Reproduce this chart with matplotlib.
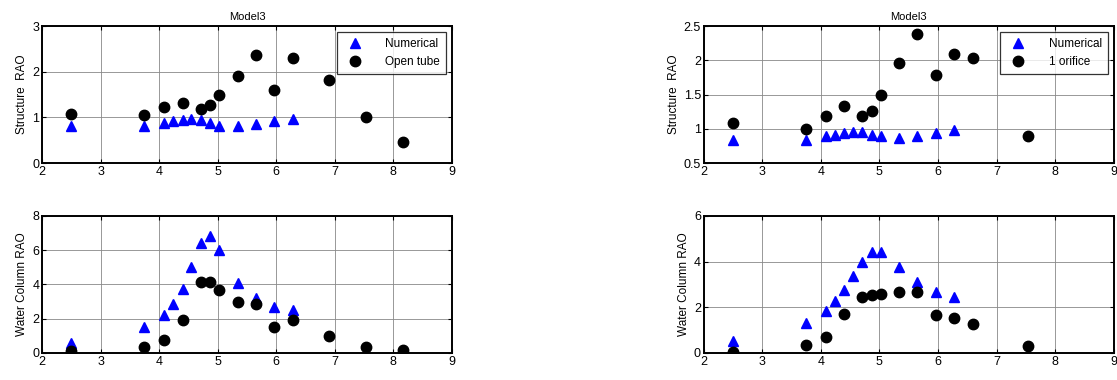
import matplotlib
matplotlib.use('Agg')
import matplotlib.pyplot as plt
from matplotlib.ticker import FuncFormatter

plt.rcParams['font.family'] = ['Liberation Sans', 'DejaVu Sans']

# wave frequency (x) values
x_num = [2.5, 3.75, 4.08, 4.24, 4.4, 4.55, 4.71, 4.87, 5.03, 5.34, 5.65, 5.97, 6.28]
x_exp_open = [2.5, 3.75, 4.08, 4.4, 4.71, 4.87, 5.03, 5.34, 5.65, 5.97, 6.28, 6.9, 7.54, 8.17]
x_exp_orif = [2.5, 3.75, 4.08, 4.4, 4.71, 4.87, 5.03, 5.34, 5.65, 5.97, 6.28, 6.6, 7.54]

# left column: open tube
struct_num_L = [0.82, 0.82, 0.88, 0.92, 0.95, 0.97, 0.95, 0.88, 0.81, 0.80, 0.85, 0.91, 0.97]
struct_open = [1.08, 1.06, 1.22, 1.31, 1.18, 1.27, 1.49, 1.91, 2.36, 1.60, 2.29, 1.82, 1.00, 0.46]
water_num_L = [0.58, 1.5, 2.2, 2.85, 3.75, 5.05, 6.45, 6.85, 6.0, 4.1, 3.2, 2.7, 2.5]
water_open = [0.1, 0.35, 0.74, 1.94, 4.17, 4.12, 3.65, 2.95, 2.87, 1.52, 1.94, 1.0, 0.35, 0.16]

# right column: 1 orifice
struct_num_R = [0.84, 0.84, 0.89, 0.91, 0.94, 0.95, 0.95, 0.91, 0.89, 0.86, 0.89, 0.94, 0.98]
struct_orif = [1.09, 1.0, 1.18, 1.33, 1.18, 1.26, 1.5, 1.96, 2.38, 1.78, 2.09, 2.03, 0.9]
water_num_R = [0.51, 1.31, 1.82, 2.26, 2.74, 3.35, 4.0, 4.41, 4.44, 3.76, 3.09, 2.69, 2.45]
water_orif = [0.03, 0.35, 0.7, 1.72, 2.47, 2.56, 2.59, 2.65, 2.69, 1.66, 1.53, 1.27, 0.29]

fig = plt.figure(figsize=(11.17, 3.8), dpi=100)

def style(ax, ylim, yticks):
    ax.set_xlim(2, 9)
    ax.set_xticks(range(2, 10))
    ax.set_ylim(*ylim)
    ax.set_yticks(yticks)
    ax.yaxis.set_major_formatter(FuncFormatter(lambda v, p: '%g' % v))
    ax.grid(True, color='#888888', linewidth=0.6)
    ax.set_axisbelow(True)
    ax.tick_params(direction='in', length=3, labelsize=9, top=True, right=True, pad=2)
    for s in ax.spines.values():
        s.set_linewidth(1.4)

def panel(rect, xn, yn, xe, ye, ylim, yticks, ylabel, title=None, leg=None):
    ax = fig.add_axes(rect)
    ax.plot(xn, yn, '^', color='blue', markersize=7.5, label='Numerical', zorder=3)
    ax.plot(xe, ye, 'o', color='black', markersize=7.5, label=leg, zorder=3)
    style(ax, ylim, yticks)
    ax.set_ylabel(ylabel, fontsize=8.5, labelpad=3)
    if title:
        ax.set_title(title, fontsize=8, pad=4)
    if leg:
        lg = ax.legend(loc='upper right', fontsize=8.5, frameon=True, fancybox=False,
                       edgecolor='black', borderaxespad=0.5, handletextpad=1.6,
                       borderpad=0.5, labelspacing=0.5)
        lg.get_frame().set_linewidth(0.9)
    return ax

panel([0.0376, 0.571, 0.367, 0.3605], x_num, struct_num_L, x_exp_open, struct_open,
      (0, 3), [0, 1, 2, 3], 'Structure  RAO', 'Model3', 'Open tube')
panel([0.0376, 0.0711, 0.367, 0.3605], x_num, water_num_L, x_exp_open, water_open,
      (0, 8), [0, 2, 4, 6, 8], 'Water Column RAO')
panel([0.630, 0.571, 0.367, 0.3605], x_num, struct_num_R, x_exp_orif, struct_orif,
      (0.5, 2.5), [0.5, 1, 1.5, 2, 2.5], 'Structure  RAO', 'Model3', '1 orifice')
panel([0.630, 0.0711, 0.367, 0.3605], x_num, water_num_R, x_exp_orif, water_orif,
      (0, 6), [0, 2, 4, 6], 'Water Column RAO')

fig.savefig('out.png', dpi=100)
